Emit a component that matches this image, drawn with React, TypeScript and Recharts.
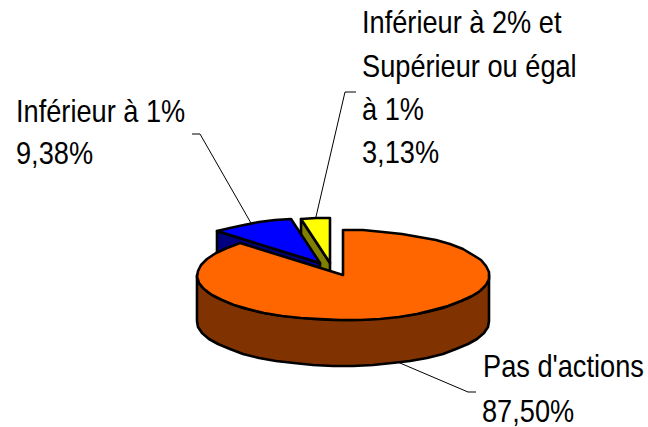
import React from "react";
import { PieChart, Pie } from "recharts";

const names = ["Inférieur à 2% et Supérieur ou égal à 1%", "Inférieur à 1%", "Pas d'actions"];
const values = [3.13, 9.38, 87.5];
const percentLabels = ["3,13%", "9,38%", "87,50%"];
const nameLines = [["Inférieur à 2% et", "Supérieur ou égal", "à 1%"], ["Inférieur à 1%"], ["Pas d'actions"]];

const topColors = ["#FFFF00", "#0000FF", "#FF6600"];
const sideColors = ["#808000", "#000080", "#803300"];

const data = names.map((name, i) => ({ name, value: values[i], fill: topColors[i] }));

const CX = 343, CY = 275, R = 146, K = 45 / 146, DEPTH = 46;
const explodeX = [-13, -23, 0];
const explodeY = [-12, -12, 0];
const STROKE = 2.6;
const FONT = "'Liberation Sans', Arial, sans-serif";
const FONT_SIZE = 32;
const X_SCALE = 0.85;
const LINE_H = 43.5;

const rad = (a: number) => (a * Math.PI) / 180;
const px = (cx: number, a: number) => cx + R * Math.cos(rad(a));
const py = (cy: number, a: number) => cy - R * K * Math.sin(rad(a));

function arcPts(cx: number, cy: number, from: number, to: number): number[][] {
  const n = Math.max(1, Math.ceil(Math.abs(to - from) / 8));
  const out: number[][] = [];
  for (let i = 0; i <= n; i++) {
    const a = from + ((to - from) * i) / n;
    out.push([Math.round(px(cx, a)), Math.round(py(cy, a))]);
  }
  return out;
}
const toD = (pts: number[][]) => "M" + pts.map((p) => p.join(",")).join("L") + "Z";

function Slice(props: any) {
  const { cx, cy, startAngle, endAngle, index } = props;
  const lo = Math.min(startAngle, endAngle);
  const hi = Math.max(startAngle, endAngle);
  const x0 = cx + explodeX[index];
  const y0 = cy + explodeY[index];
  const common = { stroke: "#000", strokeWidth: STROKE, strokeLinejoin: "round" as const };
  const side = sideColors[index];
  const parts: React.ReactNode[] = [];

  // outer wall: the part of the rim that faces the viewer
  const a = Math.max(lo, 180);
  const b = Math.min(hi, 360);
  if (b > a) {
    const top = arcPts(x0, y0, a, b);
    const bottom = arcPts(x0, y0 + DEPTH, b, a);
    parts.push(<path key="w" d={toD([...top, ...bottom])} fill={side} {...common} />);
  }
  // radial cut faces that turn toward the viewer
  const face = (angle: number, key: string) => {
    const e = [Math.round(px(x0, angle)), Math.round(py(y0, angle))];
    const pts = [[x0, y0], e, [e[0], e[1] + DEPTH], [x0, y0 + DEPTH]];
    return <path key={key} d={toD(pts)} fill={side} {...common} />;
  };
  if (Math.cos(rad(hi)) < -1e-6) parts.push(face(hi, "fh"));
  if (Math.cos(rad(lo)) > 1e-6) parts.push(face(lo, "fl"));
  // top face
  parts.push(<path key="t" d={toD([[x0, y0], ...arcPts(x0, y0, lo, hi)])} fill={topColors[index]} {...common} />);
  return <g>{parts}</g>;
}

const textX = [362, 16, 483];
const textY = [33, 122, 377];
const pctX = [362, 16, 482];
const pctY = [163, 164, 422];
const elbowNear = [[345, 92], [200, 134], [468, 392]];
const elbowFar = [[356, 92], [192, 134], [476, 392]];

function SliceLabel(props: any) {
  const { index, midAngle } = props;
  const x0 = CX + explodeX[index];
  const y0 = CY + explodeY[index] + (index === 2 ? DEPTH : 0);
  const ex = px(x0, midAngle);
  const ey = py(y0, midAngle);
  const lineStyle = { fontFamily: FONT, fontSize: FONT_SIZE, fill: "#000" };
  return (
    <g>
      <polyline
        points={`${ex},${ey} ${elbowNear[index].join(",")} ${elbowFar[index].join(",")}`}
        fill="none"
        stroke="#000"
        strokeWidth={1}
      />
      {nameLines[index].map((t, i) => (
        <text key={i} transform={`translate(${textX[index]},${textY[index] + i * LINE_H}) scale(${X_SCALE},1)`} style={lineStyle}>
          {t}
        </text>
      ))}
      <text transform={`translate(${pctX[index]},${pctY[index]}) scale(${X_SCALE},1)`} style={lineStyle}>
        {percentLabels[index]}
      </text>
    </g>
  );
}

export default function App() {
  return (
    <div style={{ position: "absolute", left: 0, top: 0, width: 648, height: 427, background: "#fff" }}>
      <PieChart width={648} height={427} margin={{ top: 0, right: 0, bottom: 0, left: 0 }}>
        <Pie
          data={data}
          dataKey="value"
          nameKey="name"
          cx={CX}
          cy={CY}
          innerRadius={0}
          outerRadius={R}
          startAngle={90}
          endAngle={450}
          paddingAngle={0}
          isAnimationActive={false}
          shape={Slice}
          label={SliceLabel}
          labelLine={false}
        />
      </PieChart>
    </div>
  );
}
